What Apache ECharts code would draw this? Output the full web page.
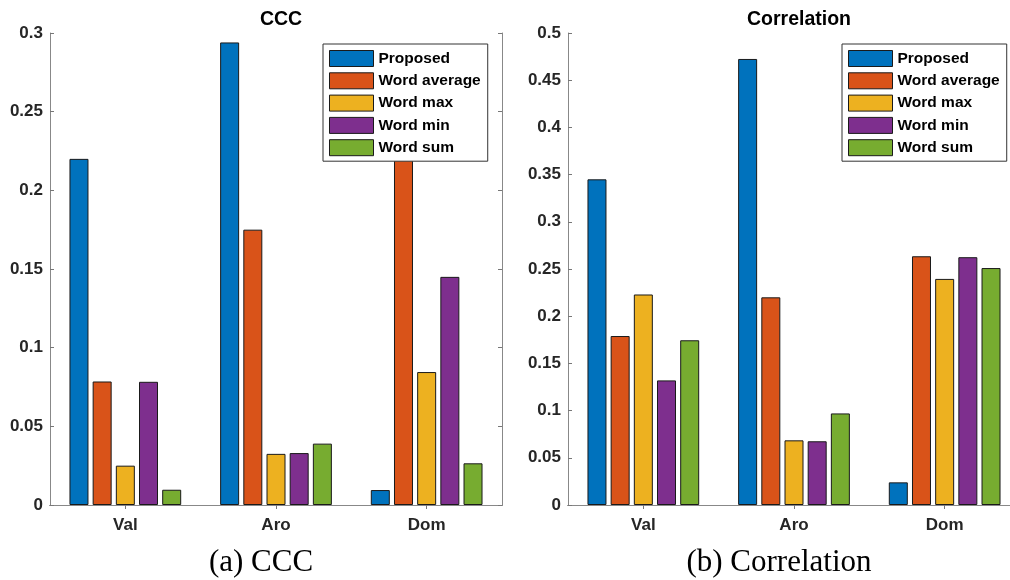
<!DOCTYPE html>
<html>
<head>
<meta charset="utf-8">
<script src="https://cdn.jsdelivr.net/npm/echarts@6/dist/echarts.min.js"></script>
<style>
html,body{margin:0;padding:0;background:#fff;}
#chart{width:1010px;height:580px;}
</style>
</head>
<body>
<div id="chart"></div>
<script>
const categories = ['Val', 'Aro', 'Dom'];
const seriesNames = ['Proposed', 'Word average', 'Word max', 'Word min', 'Word sum'];
const colors = ['#0072BD', '#D95319', '#EDB120', '#7E2F8E', '#77AC30'];

// CCC panel values (per series, per category Val/Aro/Dom)
const cccProposed = [0.220, 0.294, 0.0095];
const cccWordAverage = [0.0785, 0.175, 0.220];
const cccWordMax = [0.025, 0.0325, 0.0845];
const cccWordMin = [0.0783, 0.033, 0.145];
const cccWordSum = [0.0097, 0.039, 0.0265];

// Correlation panel values
const corrProposed = [0.345, 0.4725, 0.024];
const corrWordAverage = [0.179, 0.220, 0.2635];
const corrWordMax = [0.223, 0.0685, 0.2395];
const corrWordMin = [0.132, 0.0675, 0.2625];
const corrWordSum = [0.1745, 0.097, 0.251];

const cccTicks = {min: 0, max: 0.3, interval: 0.05};
const corrTicks = {min: 0, max: 0.5, interval: 0.05};

const panelTitles = ['CCC', 'Correlation'];
const captions = ['(a) CCC', '(b) Correlation'];

const cccData = [cccProposed, cccWordAverage, cccWordMax, cccWordMin, cccWordSum];
const corrData = [corrProposed, corrWordAverage, corrWordMax, corrWordMin, corrWordSum];

const grids = [
  {left: 50, top: 33, width: 452, height: 472, outerBoundsMode: 'none', containLabel: false},
  {left: 568, top: 33, width: 452, height: 472, outerBoundsMode: 'none', containLabel: false}
];

const labelFont = {fontFamily: 'Liberation Sans, Arial, sans-serif', fontWeight: 'bold', color: '#262626'};

const xAxes = [], yAxes = [], series = [], titles = [], legends = [];
[cccTicks, corrTicks].forEach((t, gi) => {
  xAxes.push({
    type: 'category', gridIndex: gi, data: categories, position: 'bottom',
    axisLine: {lineStyle: {color: '#262626', width: 1}},
    axisTick: {show: true, inside: true, length: 4, alignWithLabel: true, lineStyle: {color: '#777'}},
    axisLabel: Object.assign({fontSize: 17, margin: 12}, labelFont),
    splitLine: {show: false}
  });
  xAxes.push({
    type: 'category', gridIndex: gi, data: categories, position: 'top',
    axisLine: {lineStyle: {color: '#888', width: 1}},
    axisTick: {show: true, inside: true, length: 4, alignWithLabel: true, lineStyle: {color: '#777'}},
    axisLabel: {show: false}, splitLine: {show: false}
  });
  yAxes.push({
    type: 'value', gridIndex: gi, min: t.min, max: t.max, interval: t.interval, position: 'left',
    axisLine: {show: true, lineStyle: {color: '#888', width: 1}},
    axisTick: {show: true, inside: true, length: 4, lineStyle: {color: '#777'}},
    axisLabel: Object.assign({fontSize: 17, margin: 7}, labelFont),
    splitLine: {show: false}
  });
  yAxes.push({
    type: 'value', gridIndex: gi, min: t.min, max: t.max, interval: t.interval, position: 'right',
    axisLine: {show: true, lineStyle: {color: '#888', width: 1}},
    axisTick: {show: true, inside: true, length: 4, lineStyle: {color: '#777'}},
    axisLabel: {show: false}, splitLine: {show: false}
  });
  const data = gi === 0 ? cccData : corrData;
  seriesNames.forEach((name, si) => {
    series.push({
      type: 'bar', name: name, xAxisIndex: gi * 2, yAxisIndex: gi * 2,
      data: data[si], barWidth: 19, barGap: '22%',
      itemStyle: {color: colors[si], borderColor: '#1a1a1a', borderWidth: 1},
      emphasis: {disabled: true}
    });
  });
  titles.push({
    text: panelTitles[gi],
    left: grids[gi].left + grids[gi].width / 2, top: 5, textAlign: 'center',
    textStyle: {fontSize: 19.5, fontWeight: 'bold', color: '#000', fontFamily: 'Liberation Sans, Arial, sans-serif'}
  });
  titles.push({
    text: captions[gi],
    left: gi === 0 ? 256 : 774, top: 542, textAlign: 'center',
    textStyle: {fontSize: 31, fontWeight: 'normal', color: '#000', fontFamily: 'Liberation Serif, Times New Roman, serif'}
  });
});

[323, 842].forEach(x => {
  legends.push({
    data: seriesNames, left: x, top: 44, orient: 'vertical',
    itemWidth: 44, itemHeight: 16, itemGap: 5.3,
    padding: [6, 7, 5, 6], borderColor: '#333', borderWidth: 1, backgroundColor: '#fff',
    textStyle: {fontSize: 15.5, fontWeight: 'bold', color: '#000', fontFamily: 'Liberation Sans, Arial, sans-serif'},
    itemStyle: {borderColor: '#1a1a1a', borderWidth: 1},
    icon: 'rect', selectedMode: false
  });
});

const chart = echarts.init(document.getElementById('chart'), null, {renderer: 'canvas'});
chart.setOption({
  animation: false,
  backgroundColor: '#fff',
  color: colors,
  title: titles,
  legend: legends,
  grid: grids,
  xAxis: xAxes,
  yAxis: yAxes,
  series: series
});
</script>
</body>
</html>
